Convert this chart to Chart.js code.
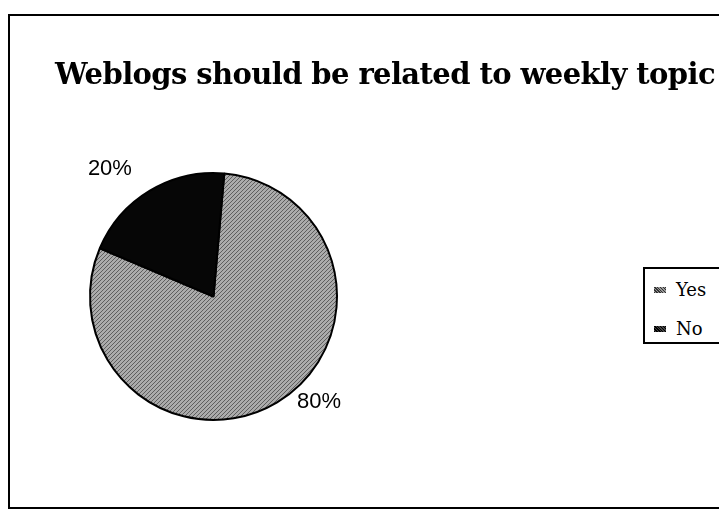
<!DOCTYPE html>
<html>
<head>
<meta charset="utf-8">
<script src="https://cdn.jsdelivr.net/npm/chart.js@4"></script>
<style>
  html, body { margin: 0; padding: 0; background: #fff; }
  body { width: 719px; height: 512px; position: relative; overflow: hidden; }
  #frame { position: absolute; left: 8px; top: 14px; width: 740px; height: 495px; border: 2px solid #000; box-sizing: border-box; }
  #title { position: absolute; left: 55px; top: 60px; font-family: "DejaVu Serif", serif; font-weight: bold; font-size: 29px; line-height: 29px; color: #000; white-space: nowrap; }
  #wrap { position: absolute; left: 0; top: 0; width: 719px; height: 512px; }
  #legend { position: absolute; left: 643px; top: 267px; width: 100px; height: 77px; border: 2px solid #000; box-sizing: border-box; background: #fff; font-family: "DejaVu Serif", serif; font-size: 18px; }
  .item { position: absolute; left: 9px; height: 22px; line-height: 22px; display: flex; align-items: center; }
  .sw { width: 12px; height: 6px; margin-right: 10px; }
</style>
</head>
<body>
<div id="frame"></div>
<div id="wrap"><canvas id="c" width="719" height="512"></canvas></div>
<div id="title">Weblogs should be related to weekly topic</div>
<div id="legend"></div>
<script>
const categories = ["Yes", "No"];
const values = [80, 20];
const valueLabels = ["80%", "20%"];

function makePattern(base, dot) {
  const p = document.createElement('canvas');
  p.width = 4; p.height = 4;
  const g = p.getContext('2d');
  g.fillStyle = base; g.fillRect(0, 0, 4, 4);
  g.fillStyle = dot;
  g.fillRect(0, 0, 1, 1); g.fillRect(2, 2, 1, 1); g.fillRect(1, 3, 1, 1); g.fillRect(3, 1, 1, 1);
  return g.createPattern(p, 'repeat');
}
const ctx = document.getElementById('c').getContext('2d');
const fills = [makePattern('#ababab', '#5e5e5e'), '#060606'];

// label placement style: offset from the arc edge point at the slice's mid angle
const labelOffsets = [{ dx: 42, dy: 0 }, { dx: -40, dy: -22 }];

const labelPlugin = {
  id: 'outLabels',
  afterDatasetsDraw(chart) {
    const meta = chart.getDatasetMeta(0);
    const c = chart.ctx;
    c.save();
    c.font = '22px "Liberation Sans", Arial, sans-serif';
    c.fillStyle = '#000';
    c.textAlign = 'center';
    c.textBaseline = 'middle';
    meta.data.forEach((arc, i) => {
      const p = arc.getProps(['x', 'y', 'startAngle', 'endAngle', 'outerRadius'], true);
      const mid = (p.startAngle + p.endAngle) / 2;
      const ex = p.x + Math.cos(mid) * p.outerRadius;
      const ey = p.y + Math.sin(mid) * p.outerRadius;
      c.fillText(valueLabels[i], ex + labelOffsets[i].dx, ey + labelOffsets[i].dy);
    });
    c.restore();
  }
};

new Chart(ctx, {
  type: 'pie',
  data: {
    labels: categories,
    datasets: [{
      data: values,
      backgroundColor: fills,
      borderColor: '#000',
      borderWidth: 2
    }]
  },
  options: {
    responsive: false,
    animation: false,
    rotation: 5,
    layout: { padding: { left: 89, right: 381, top: 172, bottom: 91 } },
    plugins: { legend: { display: false }, tooltip: { enabled: false }, title: { display: false } }
  },
  plugins: [labelPlugin]
});

// fit title width to reference span
const title = document.getElementById('title');
const target = 660;
const w = title.getBoundingClientRect().width;
const n = title.textContent.length;
title.style.letterSpacing = ((target - w) / n) + 'px';

const legend = document.getElementById('legend');
categories.forEach((name, i) => {
  const d = document.createElement('div');
  d.className = 'item';
  d.style.top = (10 + i * 39) + 'px';
  const sw = document.createElement('span');
  sw.className = 'sw';
  sw.style.background = i === 0 ? 'repeating-linear-gradient(45deg,#333 0 1px,#999 1px 2px)' : 'repeating-linear-gradient(45deg,#000 0 1px,#444 1px 2px)';
  d.appendChild(sw);
  const t = document.createElement('span');
  t.textContent = name;
  d.appendChild(t);
  legend.appendChild(d);
});
</script>
</body>
</html>
